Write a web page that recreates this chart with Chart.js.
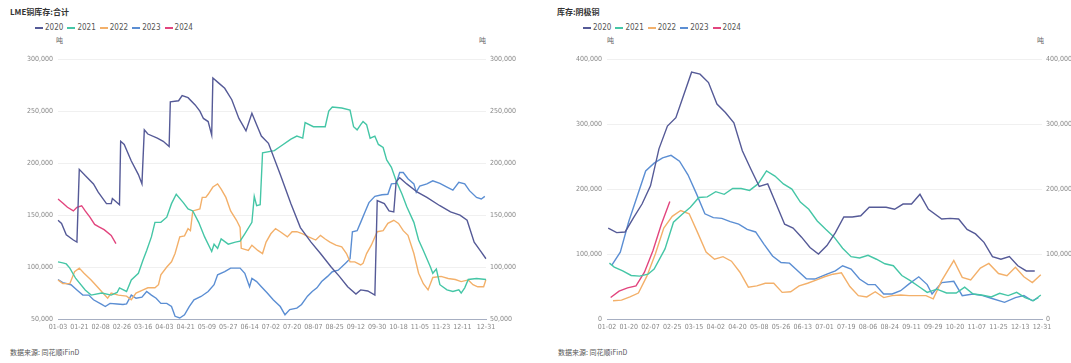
<!DOCTYPE html>
<html>
<head>
<meta charset="utf-8">
<script src="https://cdn.jsdelivr.net/npm/chart.js@4.4.1/dist/chart.umd.min.js"></script>
<style>
  body { margin: 0; background: #fff; }
  #wrap { position: relative; width: 1071px; height: 363px; overflow: hidden;
    font-family: 'Liberation Sans Narrow', 'DejaVu Sans Condensed', 'Noto Sans CJK SC', sans-serif; color: #666; }
  .title { position: absolute; top: 6px; font-size: 8px; font-weight: bold; color: #333; font-family: 'Noto Sans CJK SC', sans-serif; }
  .legend { position: absolute; top: 23px; font-size: 8px; color: #555; white-space: nowrap; }
  .legend span { display: inline-block; width: 32.4px; }
  .legend i { display: inline-block; width: 8px; height: 2px; margin-right: 2px; vertical-align: middle; }
  .unit { position: absolute; top: 35px; font-size: 7px; color: #666; font-family: 'Noto Sans CJK SC', sans-serif; }
  .src { position: absolute; top: 347px; font-size: 7px; color: #555; font-family: 'Noto Sans CJK SC', sans-serif; }
  canvas { position: absolute; top: 50px; }
</style>
</head>
<body>
<div id="wrap">
  <div class="title" style="left:10px">LME铜库存:合计</div>
  <div class="legend" id="legL" style="left:35px"></div>
  <div class="unit" style="left:56px">吨</div>
  <div class="unit" style="left:479px">吨</div>
  <canvas id="chartL" width="535" height="290" style="left:0px"></canvas>
  <div class="src" style="left:10px">数据来源: 同花顺iFinD</div>

  <div class="title" style="left:557px">库存:阴极铜</div>
  <div class="legend" id="legR" style="left:583px"></div>
  <div class="unit" style="left:607px">吨</div>
  <div class="unit" style="left:1037px">吨</div>
  <canvas id="chartR" width="531" height="290" style="left:540px"></canvas>
  <div class="src" style="left:558px">数据来源: 同花顺iFinD</div>
</div>
<script>
// years / colours
const years = ['2020', '2021', '2022', '2023', '2024'];
const colors = ['#555a97', '#45c6a6', '#f3b06a', '#5b8ed3', '#e2457e'];

// tick labels shown on the x axes
const ticksL = ['01-03','01-21','02-08','02-26','03-16','04-03','04-21','05-09','05-27','06-14','07-02',
  '07-20','08-07','08-25','09-12','09-30','10-18','11-05','11-23','12-11','12-31'];
const ticksR = ['01-02','01-20','02-07','02-25','03-15','04-02','04-20','05-08','05-26','06-13','07-01',
  '07-19','08-06','08-24','09-11','09-29','10-20','11-07','11-25','12-13','12-31'];

// LME copper stock, tonnes
const lme2020 = [['01-03',145000],['01-06',142000],['01-10',131000],['01-16',126000],['01-19',124000],['01-21',194000],
  ['01-26',188000],['02-02',180000],['02-06',172000],['02-13',161000],['02-17',161000],['02-18',166000],['02-24',160000],
  ['02-25',221000],['02-28',218000],['03-06',202000],['03-12',189000],['03-15',180000],['03-17',232000],['03-20',228000],
  ['03-28',224000],['04-02',221000],['04-07',216000],['04-08',259000],['04-15',260000],['04-18',265000],['04-23',263000],
  ['04-29',256000],['05-03',250000],['05-06',243000],['05-10',240000],['05-13',227000],['05-14',282000],['05-19',277000],
  ['05-24',272000],['05-30',261000],['06-05',243000],['06-11',231000],['06-16',248000],['06-20',237000],['06-24',226000],
  ['06-30',219000],['07-10',189000],['07-19',161000],['07-27',138000],['08-05',124000],['08-13',113000],['08-22',100000],
  ['08-29',91000],['09-05',81000],['09-12',74000],['09-16',78000],['09-22',77000],['09-28',73000],['09-30',164000],
  ['10-06',161000],['10-10',154000],['10-14',153000],['10-16',182000],['10-19',186000],['10-25',180000],['11-03',172000],
  ['11-11',167000],['11-22',159000],['12-01',153000],['12-09',150000],['12-15',145000],['12-21',124000],['12-26',116000],
  ['12-31',108000]];
const lme2021 = [['01-03',105000],['01-07',104000],['01-10',103000],['01-13',99000],['01-18',89000],['01-26',78000],
  ['01-31',73000],['02-09',75000],['02-17',73000],['02-22',75500],['02-24',80000],['03-02',76500],['03-06',87600],
  ['03-12',94000],['03-16',107000],['03-19',116000],['03-23',129000],['03-26',143000],['03-31',143000],['04-05',148000],
  ['04-09',161000],['04-13',170000],['04-19',162000],['04-23',156000],['04-27',154000],['05-02',143000],['05-07',129000],
  ['05-13',115000],['05-15',122000],['05-18',118000],['05-21',127000],['05-27',122000],['06-02',124000],['06-06',125000],
  ['06-10',132000],['06-16',143000],['06-18',168000],['06-20',159000],['06-23',160000],['06-25',210000],['07-05',212000],
  ['07-10',216000],['07-19',223000],['07-24',226000],['07-29',224000],['07-31',239000],['08-07',235000],['08-17',235000],
  ['08-20',250000],['08-23',254000],['08-31',253000],['09-07',251000],['09-10',235000],['09-13',232000],['09-16',237000],
  ['09-18',240000],['09-21',237000],['09-24',224000],['09-28',226000],['10-01',218000],['10-05',215000],['10-08',203000],
  ['10-12',196000],['10-16',183000],['10-21',170000],['10-25',158000],['10-31',143000],['11-04',126000],['11-08',116000],
  ['11-14',100000],['11-16',94000],['11-19',98000],['11-22',83000],['11-28',78000],['12-03',76500],['12-08',78000],
  ['12-10',75000],['12-13',80000],['12-16',88000],['12-23',89000],['12-31',88000]];
const lme2022 = [['01-03',87600],['01-07',84000],['01-13',84000],['01-17',95500],['01-21',99000],['01-25',94000],
  ['01-31',87600],['02-06',80000],['02-10',75000],['02-14',70000],['02-17',75000],['02-23',73000],['03-02',72000],
  ['03-06',68500],['03-10',75000],['03-16',78000],['03-20',80000],['03-26',80000],['03-29',83000],['03-31',92500],
  ['04-05',100000],['04-09',105000],['04-12',113000],['04-16',129000],['04-20',130000],['04-23',137000],['04-25',135000],
  ['04-27',154000],['05-03',156000],['05-05',167000],['05-08',167000],['05-10',170000],['05-14',177000],['05-18',180000],
  ['05-21',175000],['05-25',167000],['05-29',154000],['06-03',145000],['06-06',138000],['06-07',118000],['06-13',116000],
  ['06-16',121000],['06-21',116000],['06-25',113000],['06-28',124000],['07-02',132000],['07-06',137000],['07-10',134000],
  ['07-16',129000],['07-20',134000],['07-24',134000],['07-29',132000],['08-03',129000],['08-09',126000],['08-13',130500],
  ['08-17',127000],['08-21',124000],['08-26',121000],['08-31',119500],['09-04',113000],['09-07',105000],['09-11',105000],
  ['09-16',102000],['09-18',103500],['09-21',113000],['09-25',121000],['09-30',134000],['10-05',135000],['10-09',142000],
  ['10-14',145000],['10-18',142000],['10-22',135000],['10-26',130500],['10-31',113000],['11-04',94000],['11-08',84000],
  ['11-12',78000],['11-16',90000],['11-23',91000],['11-29',89000],['12-05',88000],['12-10',86000],['12-16',87600],
  ['12-20',83000],['12-24',81000],['12-29',81000],['12-31',88000]];
const lme2023 = [['01-03',88000],['01-07',85000],['01-14',83000],['01-19',78000],['01-24',73000],['01-29',73000],
  ['02-02',68500],['02-09',64000],['02-12',62000],['02-16',65000],['02-22',64500],['02-27',64000],['03-02',64500],
  ['03-06',73000],['03-10',70000],['03-15',71000],['03-19',76500],['03-23',73000],['03-27',70000],['03-31',65000],
  ['04-05',65000],['04-09',62000],['04-12',52600],['04-16',51000],['04-20',54000],['04-24',62000],['04-28',68500],
  ['05-04',71700],['05-10',76500],['05-15',83000],['05-18',92500],['05-24',95500],['05-29',99000],['06-06',99000],
  ['06-10',94000],['06-14',81000],['06-16',89000],['06-20',86000],['06-24',81000],['06-29',75000],['07-04',68500],
  ['07-10',62000],['07-14',54000],['07-18',59000],['07-24',60500],['07-28',64000],['08-02',72000],['08-06',76500],
  ['08-10',80000],['08-14',86000],['08-19',91000],['08-23',95500],['08-28',97000],['09-03',103500],['09-07',108000],
  ['09-09',134000],['09-13',135000],['09-16',143000],['09-20',154000],['09-23',162000],['09-28',168000],['10-04',169600],
  ['10-09',170000],['10-12',180000],['10-16',180500],['10-19',191000],['10-22',191000],['10-26',185000],['10-31',180000],
  ['11-02',172000],['11-05',178000],['11-11',180000],['11-16',183000],['11-22',180500],['11-28',177000],['12-03',174000],
  ['12-08',181500],['12-13',180000],['12-17',173500],['12-23',167000],['12-27',165500],['12-30',168000]];
const lme2024 = [['01-03',165500],['01-07',161700],['01-11',157500],['01-16',154000],['01-19',157500],['01-23',159000],
  ['01-26',154000],['01-30',148000],['02-03',141000],['02-07',138500],['02-11',136000],['02-17',130500],['02-21',122500]];

// SHFE cathode copper stock, tonnes (weekly)
const shfe2020 = [['01-03',140000],['01-10',133000],['01-17',134000],['01-24',156000],['01-31',177000],['02-07',205000],
  ['02-14',262000],['02-21',297000],['02-28',310000],['03-13',380000],['03-20',377000],['03-27',364000],['04-03',331000],
  ['04-10',318000],['04-17',302000],['04-24',259000],['05-01',231000],['05-08',204000],['05-15',208000],['05-22',177000],
  ['05-29',146000],['06-05',140000],['06-12',126000],['06-19',110000],['06-26',100000],['07-03',113000],['07-10',133000],
  ['07-17',157000],['07-24',157000],['07-31',159000],['08-07',172000],['08-14',172000],['08-21',172000],['08-28',169000],
  ['09-04',177000],['09-11',177000],['09-18',192000],['09-25',169000],['10-09',154000],['10-16',155000],['10-23',154000],
  ['10-30',138000],['11-06',131000],['11-13',118000],['11-20',96000],['11-27',92000],['12-04',96000],['12-11',82000],
  ['12-18',74000],['12-25',74000]];
const shfe2021 = [['01-04',86000],['01-08',80000],['01-15',74000],['01-22',67000],['01-29',66000],['02-05',69000],
  ['02-10',77000],['02-19',108000],['02-26',149000],['03-05',161000],['03-12',172000],['03-19',187000],['03-26',188000],
  ['04-02',196000],['04-09',192000],['04-16',201000],['04-23',201000],['04-30',198000],['05-07',208000],['05-14',228000],
  ['05-21',220000],['05-28',208000],['06-04',200000],['06-11',180000],['06-18',169000],['06-25',151000],['07-02',138000],
  ['07-09',126000],['07-16',109000],['07-23',96000],['07-30',94000],['08-06',98000],['08-13',92000],['08-20',85000],
  ['08-27',82000],['09-03',67000],['09-10',59000],['09-17',50000],['09-24',41000],['10-05',46000],['10-13',40000],
  ['10-21',40000],['10-28',49000],['11-04',38500],['11-11',37000],['11-19',34000],['11-26',39500],['12-03',36000],
  ['12-10',41000],['12-17',33000],['12-24',28000],['12-30',37000]];
const shfe2022 = [['01-07',28000],['01-14',29000],['01-21',34000],['01-28',40000],['02-04',66000],['02-11',100000],
  ['02-18',140000],['02-25',158000],['03-04',167000],['03-11',162000],['03-18',133000],['03-25',103000],['04-01',92000],
  ['04-08',96000],['04-15',89000],['04-22',72000],['04-29',49000],['05-06',51000],['05-13',55000],['05-20',55000],
  ['05-27',41000],['06-03',42000],['06-10',51000],['06-17',55000],['06-24',60000],['07-01',65000],['07-08',69000],
  ['07-15',71000],['07-22',50000],['07-29',36000],['08-05',34000],['08-12',42000],['08-19',33000],['08-26',36000],
  ['09-02',37000],['09-09',36000],['09-16',36000],['09-23',36000],['09-29',31000],['10-09',59000],['10-19',90000],
  ['10-26',64000],['11-02',60000],['11-10',78500],['11-17',85600],['11-25',70000],['12-02',66700],['12-09',79500],
  ['12-16',65000],['12-23',56000],['12-30',68000]];
const shfe2023 = [['01-06',83000],['01-13',103000],['01-20',150000],['02-03',228000],['02-10',240000],['02-17',248000],
  ['02-24',252000],['03-03',243000],['03-10',222000],['03-17',193000],['03-24',162000],['03-31',156000],['04-07',155000],
  ['04-14',150000],['04-21',146000],['04-28',138000],['05-05',134000],['05-12',115000],['05-19',97000],['05-26',87000],
  ['06-02',86000],['06-09',74000],['06-16',62000],['06-23',61500],['07-03',69000],['07-10',74000],['07-16',82000],
  ['07-23',77000],['07-30',61500],['08-06',53000],['08-12',53000],['08-19',38500],['08-26',38500],['09-02',43600],
  ['09-09',54000],['09-17',65000],['09-24',53000],['09-28',38500],['10-09',56000],['10-19',58000],['10-26',36000],
  ['11-04',38500],['11-12',36000],['11-19',32000],['11-30',25600],['12-09',33000],['12-16',36000],['12-23',28000],
  ['12-28',33000]];
const shfe2024 = [['01-05',33000],['01-12',43000],['01-19',48000],['01-26',51000],['02-02',72000],['02-09',105000],
  ['02-16',146000],['02-23',181000]];

const monthDays = [31, 28, 31, 30, 31, 30, 31, 31, 30, 31, 30, 31];

// every calendar day between two MM-DD labels (non-leap year), minus skipped ones
function buildDays(first, last, skip) {
  const out = [];
  let started = false;
  for (let m = 1; m <= 12; m++) {
    for (let d = 1; d <= monthDays[m - 1]; d++) {
      const lab = String(m).padStart(2, '0') + '-' + String(d).padStart(2, '0');
      if (lab === first) started = true;
      if (started && !skip.includes(lab)) out.push(lab);
      if (lab === last) return out;
    }
  }
  return out;
}

const daysL = buildDays('01-03', '12-31', []);
const daysR = buildDays('01-02', '12-31', ['10-01', '10-02', '10-03']);

function legend(id) {
  document.getElementById(id).innerHTML = years.map((y, i) =>
    `<span><i style="background:${colors[i]}"></i>${y}</span>`).join('');
}
legend('legL');
legend('legR');

const fmt = v => v.toLocaleString('en-US');
const tickFont = { family: "'Liberation Sans Narrow', 'DejaVu Sans Condensed', sans-serif", size: 7 };

function makeChart(id, days, tickLabels, series, yMin, yMax, step, leftW, rightW) {
  const ctx = document.getElementById(id).getContext('2d');
  return new Chart(ctx, {
    type: 'line',
    data: {
      labels: days,
      datasets: series.map((s, i) => ({
        label: years[i],
        data: s.map(p => ({ x: p[0], y: p[1] })),
        borderColor: colors[i],
        backgroundColor: colors[i],
        borderWidth: 1.4,
        pointRadius: 0,
        tension: 0,
        yAxisID: 'y'
      }))
    },
    options: {
      responsive: false,
      animation: false,
      plugins: { legend: { display: false }, tooltip: { enabled: false } },
      layout: { padding: { top: 8, bottom: 0, left: 0, right: 0 } },
      scales: {
        x: {
          type: 'category',
          grid: { display: false, drawTicks: false },
          border: { display: true, color: '#a7afc2', width: 1 },
          ticks: {
            autoSkip: false, maxRotation: 0, minRotation: 0, padding: 4,
            color: '#888', font: tickFont,
            callback: function (v, i) { return tickLabels.includes(days[i]) ? days[i] : ''; }
          },
          afterFit: s => { s.height = 21; }
        },
        y: {
          position: 'left', min: yMin, max: yMax,
          grid: { color: '#f0f0f0', drawTicks: false },
          border: { display: false },
          ticks: { stepSize: step, padding: 5, color: '#888', font: tickFont, callback: fmt },
          afterFit: s => { s.width = leftW; }
        },
        y2: {
          position: 'right', min: yMin, max: yMax,
          grid: { display: false, drawTicks: false },
          border: { display: false },
          ticks: { stepSize: step, padding: 4, color: '#888', font: tickFont, callback: fmt },
          afterFit: s => { s.width = rightW; }
        }
      }
    }
  });
}

makeChart('chartL', daysL, ticksL, [lme2020, lme2021, lme2022, lme2023, lme2024], 50000, 300000, 50000, 58, 49);
makeChart('chartR', daysR, ticksR, [shfe2020, shfe2021, shfe2022, shfe2023, shfe2024], 0, 400000, 100000, 67, 29);
</script>
</body>
</html>
